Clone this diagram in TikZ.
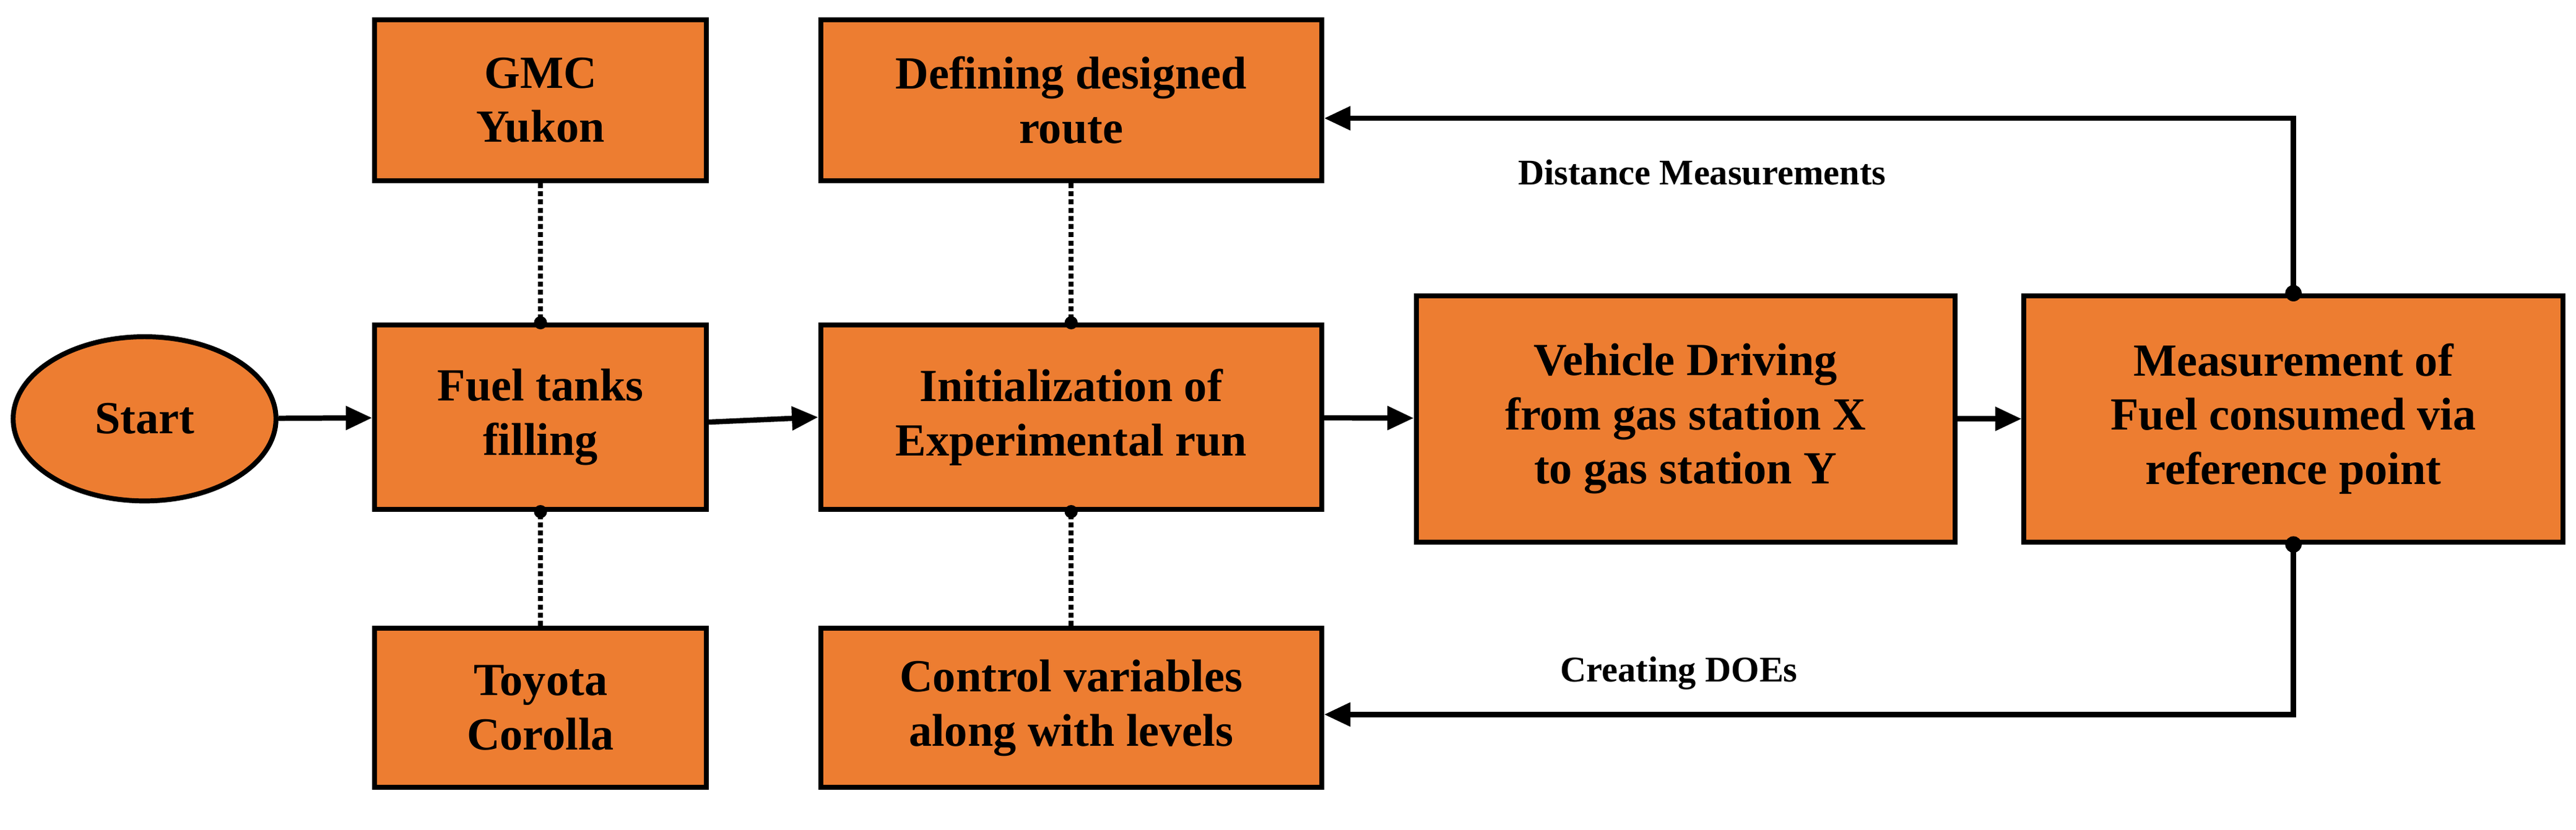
\documentclass[tikz,border=0pt]{standalone}
\usepackage{fontspec}
\setmainfont{Liberation Serif}
\usetikzlibrary{shapes.geometric,arrows.meta}
\definecolor{org}{HTML}{ED7D31}
\begin{document}
\begin{tikzpicture}[x=1pt,y=-1pt,
 box/.style={draw=black,line width=3pt,fill=org,align=center,font=\fontsize{28}{33}\selectfont\bfseries},
 arr/.style={line width=3.2pt,-{Triangle[length=16pt,width=14pt]}},
 dot/.style={line width=3pt,dotted},
 lab/.style={font=\fontsize{22}{26}\selectfont\bfseries}]
\useasboundingbox (0,0) rectangle (1568,505);
\node[box,ellipse,minimum width=160pt,minimum height=100pt] (start) at (88,255) {Start};
\node[box,minimum width=202pt,minimum height=112pt] (fuel) at (329,254) {Fuel tanks\\filling};
\node[box,minimum width=202pt,minimum height=98pt] (gmc) at (329,61) {GMC\\Yukon};
\node[box,minimum width=202pt,minimum height=97pt] (toy) at (329,431) {Toyota\\Corolla};
\node[box,minimum width=305pt,minimum height=112pt] (init) at (652,254) {Initialization of\\Experimental run};
\node[box,minimum width=305pt,minimum height=98pt] (def) at (652,61) {Defining designed\\route};
\node[box,minimum width=305pt,minimum height=97pt] (ctl) at (652,431) {Control variables\\along with levels};
\node[box,minimum width=328pt,minimum height=150pt] (veh) at (1026,255) {Vehicle Driving\\from gas station X\\to gas station Y};
\node[box,minimum width=328pt,minimum height=150pt] (meas) at (1396,255) {Measurement of\\Fuel consumed via\\reference point};
\draw[arr] (start) -- (fuel);
\draw[arr] (fuel.east)++(0,3) -- (init.west);
\draw[arr] (init) -- (veh);
\draw[arr] (veh) -- (meas);
\foreach \a/\b in {gmc/fuel,def/init}{\draw[dot] (\a.south) -- (\b.north); \fill (\b.north) circle (4pt);}
\foreach \a/\b in {toy/fuel,ctl/init}{\draw[dot] (\a.north) -- (\b.south); \fill (\b.south) circle (4pt);}
\coordinate (t0) at (def.east|-0,72);
\coordinate (t1) at (meas.north|-0,72);
\coordinate (b0) at (ctl.east|-0,435);
\coordinate (b1) at (meas.south|-0,435);
\draw[arr] (meas.north) -- (t1) -- (t0);
\fill (meas.north) circle (5pt);
\draw[arr] (meas.south) -- (b1) -- (b0);
\fill (meas.south) circle (5pt);
\node[lab] (dm) at (1036,105) {Distance Measurements};
\node[lab] (cd) at (1022,410) {Creating DOEs};
\end{tikzpicture}
\end{document}
